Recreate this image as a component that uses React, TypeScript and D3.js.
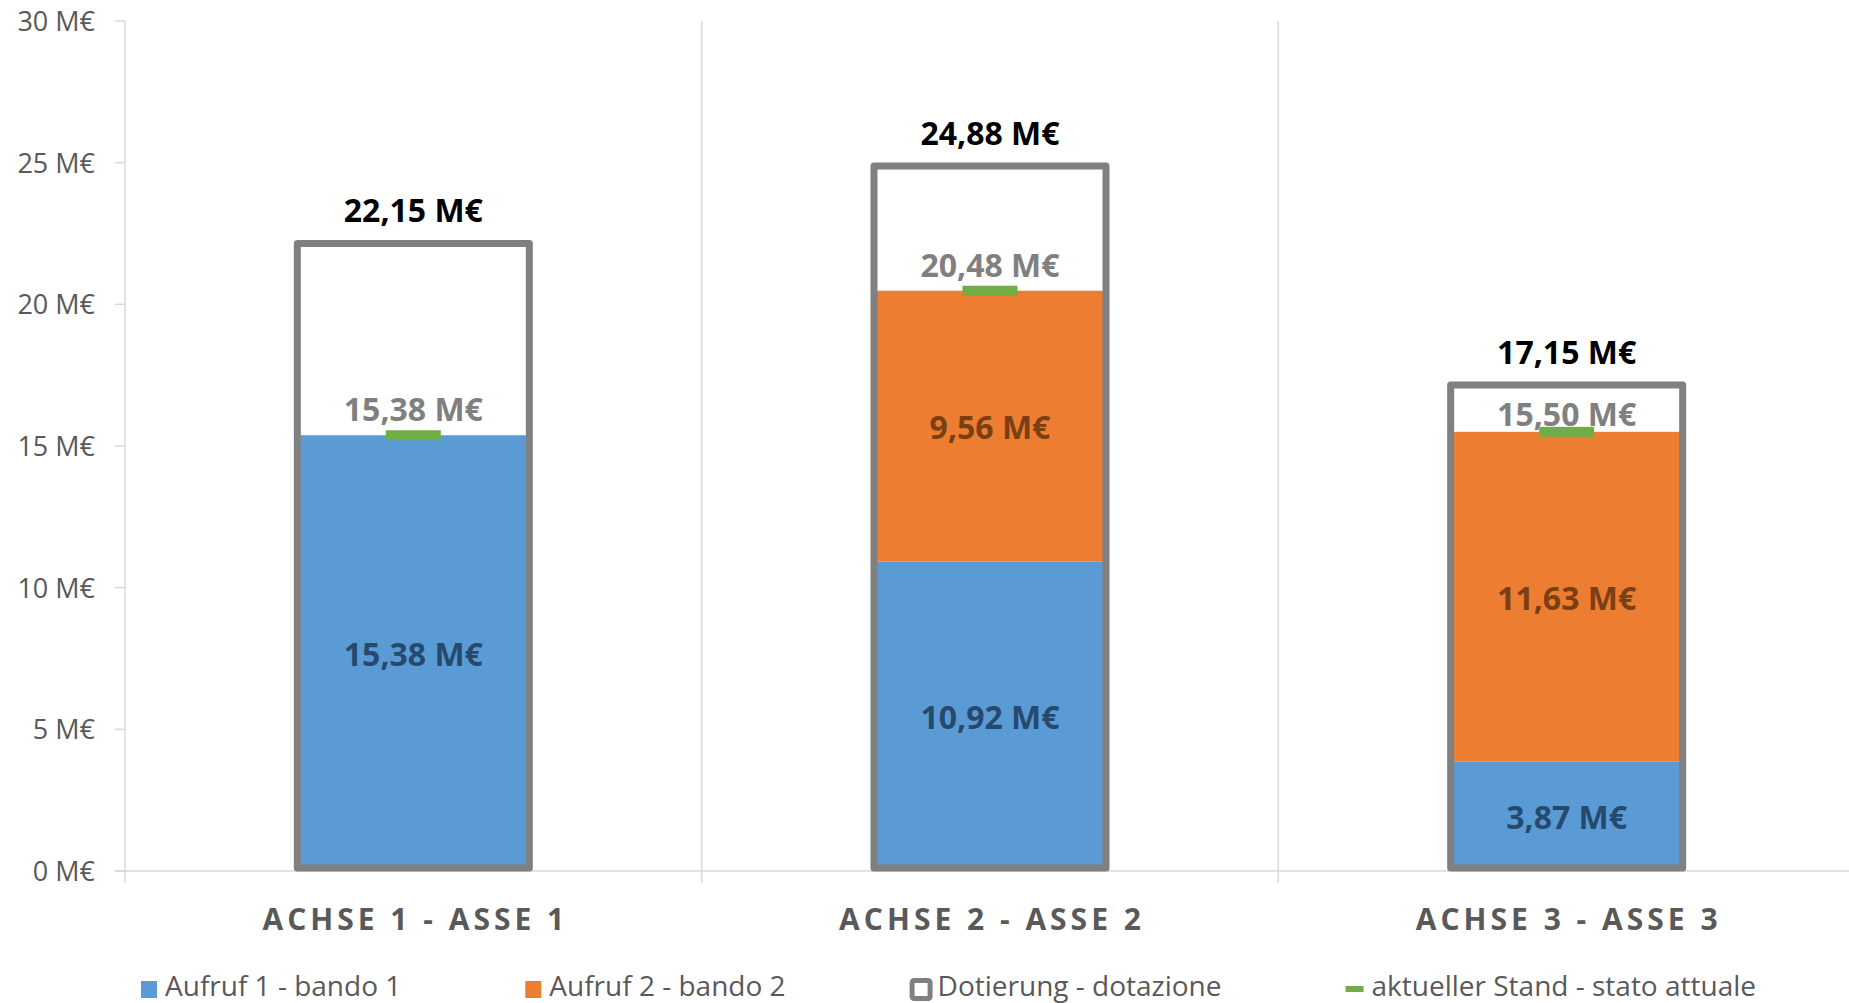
import React, { useEffect, useRef } from "react";
import * as d3 from "d3";

const categories = ["ACHSE 1 - ASSE 1", "ACHSE 2 - ASSE 2", "ACHSE 3 - ASSE 3"];
const aufruf1 = [15.38, 10.92, 3.87];
const aufruf2 = [0, 9.56, 11.63];
const dotierung = [22.15, 24.88, 17.15];
const aktuell = [15.38, 20.48, 15.5];
const yTicks = [0, 5, 10, 15, 20, 25, 30];
const legendNames = [
  "Aufruf 1 - bando 1",
  "Aufruf 2 - bando 2",
  "Dotierung - dotazione",
  "aktueller Stand - stato attuale",
];

const W = 1849;
const H = 1003;
const FONT = "'Open Sans', 'DejaVu Sans', sans-serif";

const locale = d3.formatLocale({
  decimal: ",",
  thousands: ".",
  grouping: [3],
  currency: ["", " M€"],
});
const fmt = (v: number) => locale.format(".2f")(v) + " M€";

const App = () => {
  const ref = useRef<SVGSVGElement>(null);

  useEffect(() => {
    const svg = d3.select(ref.current);
    svg.selectAll("*").remove();

    const x = d3.scaleBand().domain(categories).range([125, 1855]);
    const y = d3.scaleLinear().domain([0, 30]).range([871, 21]);
    const barW = 232;
    const bx = (c: string) => (x(c) as number) + (x.bandwidth() - barW) / 2;
    const cx = (c: string) => (x(c) as number) + x.bandwidth() / 2;

    const grid = "#d9d9d9";

    // category separators
    categories.slice(1).forEach((c) => {
      svg
        .append("line")
        .attr("x1", x(c) as number)
        .attr("x2", x(c) as number)
        .attr("y1", y(30))
        .attr("y2", y(0) + 12)
        .style("stroke", grid)
        .style("stroke-width", 1.5);
    });

    // y axis
    svg
      .append("line")
      .attr("x1", 125)
      .attr("x2", 125)
      .attr("y1", y(30))
      .attr("y2", y(0) + 12)
      .style("stroke", grid)
      .style("stroke-width", 1.5);

    svg
      .append("line")
      .attr("x1", 115)
      .attr("x2", W)
      .attr("y1", y(0))
      .attr("y2", y(0))
      .style("stroke", grid)
      .style("stroke-width", 1.5);

    yTicks.forEach((t) => {
      svg
        .append("line")
        .attr("x1", 115)
        .attr("x2", 125)
        .attr("y1", y(t))
        .attr("y2", y(t))
        .style("stroke", grid)
        .style("stroke-width", 1.5);
      svg
        .append("text")
        .attr("x", 95)
        .attr("y", y(t) + 10)
        .style("font-family", FONT)
        .style("font-size", "27px")
        .style("fill", "#595959")
        .style("text-anchor", "end")
        .text(`${t} M€`);
    });

    // stacked bars
    const rows = categories.map((c, i) => ({ cat: c, a1: aufruf1[i], a2: aufruf2[i] }));
    const stack = d3.stack<any>().keys(["a1", "a2"])(rows);
    const colors = ["#5b9bd5", "#ed7d31"];
    const labelColors = ["#264a6e", "#7b3f14"];

    stack.forEach((layer, li) => {
      layer.forEach((d) => {
        const c = d.data.cat;
        svg
          .append("rect")
          .attr("x", bx(c))
          .attr("y", y(d[1]))
          .attr("width", barW)
          .attr("height", y(d[0]) - y(d[1]))
          .style("fill", colors[li]);
      });
    });

    // dotierung boxes
    categories.forEach((c, i) => {
      svg
        .append("rect")
        .attr("x", bx(c))
        .attr("y", y(dotierung[i]))
        .attr("width", barW)
        .attr("height", y(0) - 3 - y(dotierung[i]))
        .style("fill", "none")
        .style("stroke", "#808080")
        .style("stroke-width", 7)
        .style("stroke-linejoin", "round");

      svg
        .append("text")
        .attr("x", cx(c))
        .attr("y", y(dotierung[i]) - 21)
        .style("font-family", FONT)
        .style("font-size", "32px")
        .style("font-weight", "bold")
        .style("fill", "#000")
        .style("text-anchor", "middle")
        .text(fmt(dotierung[i]));
    });

    // segment labels
    stack.forEach((layer, li) => {
      layer.forEach((d) => {
        if (d[1] - d[0] <= 0) return;
        svg
          .append("text")
          .attr("x", cx(d.data.cat))
          .attr("y", y((d[0] + d[1]) / 2) + 13)
          .style("font-family", FONT)
          .style("font-size", "32px")
          .style("font-weight", "bold")
          .style("fill", labelColors[li])
          .style("text-anchor", "middle")
          .text(fmt(d[1] - d[0]));
      });
    });

    // current state markers
    categories.forEach((c, i) => {
      // label sits above the marker, but stays clear of the box top
      const ty = Math.max(y(aktuell[i]) - 14, y(dotierung[i]) + 41);
      svg
        .append("text")
        .attr("x", cx(c))
        .attr("y", ty)
        .style("font-family", FONT)
        .style("font-size", "32px")
        .style("font-weight", "bold")
        .style("fill", "#808080")
        .style("text-anchor", "middle")
        .text(fmt(aktuell[i]));
      svg
        .append("rect")
        .attr("x", cx(c) - 27.5)
        .attr("y", y(aktuell[i]) - 5)
        .attr("width", 55)
        .attr("height", 10)
        .style("fill", "#70ad47");
    });

    // category labels
    categories.forEach((c) => {
      svg
        .append("text")
        .attr("x", cx(c) + 2)
        .attr("y", 930)
        .style("font-family", FONT)
        .style("font-size", "30px")
        .style("font-weight", "bold")
        .style("letter-spacing", "4px")
        .style("fill", "#595959")
        .style("text-anchor", "middle")
        .text(c);
    });

    // legend
    let lx = 141;
    const ly = 989;
    legendNames.forEach((name, i) => {
      const g = svg.append("g").attr("transform", `translate(${lx},0)`);
      if (i < 2) {
        g.append("rect")
          .attr("x", 0)
          .attr("y", ly - 8)
          .attr("width", 16)
          .attr("height", 17)
          .style("fill", colors[i]);
      } else if (i === 2) {
        g.append("rect")
          .attr("x", 2.5)
          .attr("y", ly - 8.5)
          .attr("width", 18)
          .attr("height", 18)
          .attr("rx", 2)
          .style("fill", "#fff")
          .style("stroke", "#808080")
          .style("stroke-width", 5);
      } else {
        g.append("rect")
          .attr("x", 0)
          .attr("y", ly - 3)
          .attr("width", 18)
          .attr("height", 6)
          .style("fill", "#70ad47");
      }
      const tx = i === 2 ? 28 : i === 3 ? 26 : 24;
      const t = g
        .append("text")
        .attr("x", tx)
        .attr("y", ly + 7)
        .style("font-family", FONT)
        .style("font-size", "28px")
        .style("fill", "#595959")
        .text(name);
      const len = (t.node() as SVGTextElement).getComputedTextLength();
      lx += tx + len + 124;
    });
  }, []);

  return (
    <div style={{ position: "absolute", left: 0, top: 0 }}>
      <svg ref={ref} width={W} height={H} style={{ display: "block", background: "#fff" }} />
    </div>
  );
};

export default App;
